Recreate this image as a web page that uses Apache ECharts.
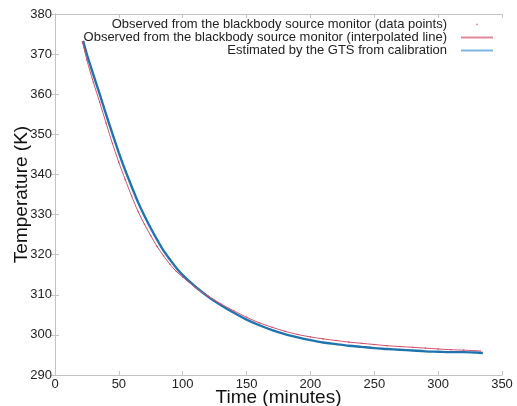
<!DOCTYPE html>
<html>
<head>
<meta charset="utf-8">
<script src="https://cdn.jsdelivr.net/npm/echarts@6/dist/echarts.min.js"></script>
<style>
html,body{margin:0;padding:0;background:#fff;}
#c{width:517px;height:406px;}
</style>
</head>
<body>
<div id="c"></div>
<script>
var xTicks = [0, 50, 100, 150, 200, 250, 300, 350];
var yTicks = [290, 300, 310, 320, 330, 340, 350, 360, 370, 380];

var blueTime = [22,25,30,35,40,45,50,55,60,65,70,75,80,85,90,95,100,110,120,130,140,150,160,170,180,190,200,210,220,230,240,250,260,270,280,290,300,310,320,330,335];
var blueTemp = [373.3,369.9,364.9,360.0,355.0,350.1,345.4,341.0,337.0,333.1,329.7,326.6,323.7,321.0,318.8,316.7,314.9,312.0,309.5,307.4,305.5,303.8,302.4,301.2,300.2,299.4,298.7,298.1,297.7,297.3,297.0,296.7,296.5,296.3,296.1,295.9,295.8,295.7,295.7,295.6,295.5];

var redTime = [21.5,25,30,35,40,45,50,55,60,65,70,75,80,85,90,95,100,110,120,130,140,150,160,170,180,190,200,210,220,230,240,250,260,270,280,290,300,310,320,333];
var redTemp = [373.0,368.5,363.0,358.0,352.8,347.7,343.0,338.7,334.6,330.8,327.6,324.7,322.0,319.7,317.6,315.8,314.4,311.8,309.6,307.7,306.0,304.4,303.0,301.9,300.9,300.1,299.5,299.0,298.6,298.2,297.9,297.6,297.3,297.1,296.9,296.7,296.5,296.3,296.2,296.0];

var nameDots = 'Observed from the blackbody source monitor (data points)';
var nameLine = 'Observed from the blackbody source monitor (interpolated line)';
var nameEst = 'Estimated by the GTS from calibration';

function pairs(xs, ys) { return xs.map(function (x, i) { return [x, ys[i]]; }); }

var FONT = 'Liberation Sans, Arial, sans-serif';
var AX = '#c4c4c4';

var chart = echarts.init(document.getElementById('c'), null, {renderer: 'canvas'});
chart.setOption({
  animation: false,
  backgroundColor: '#fff',
  grid: {left: 55, right: 15, top: 14, bottom: 31, containLabel: false, outerBoundsMode: 'none'},
  legend: {
    orient: 'vertical',
    right: 24,
    top: 18,
    align: 'right',
    itemWidth: 32,
    itemHeight: 2,
    itemGap: 0,
    padding: 0,
    textStyle: {fontFamily: FONT, fontSize: 13, color: '#222', lineHeight: 12, padding: [0, 9, 0, 0]},
    data: [
      {name: nameDots, icon: 'circle', itemStyle: {color: '#e07890'}},
      {name: nameLine, icon: 'rect', itemStyle: {color: '#de8a9c'}},
      {name: nameEst, icon: 'rect', itemStyle: {color: '#7cb6e2'}}
    ]
  },
  xAxis: [{
    type: 'value', min: 0, max: 350, interval: 50, position: 'bottom',
    name: 'Time (minutes)', nameLocation: 'middle', nameGap: 13, nameMoveOverlap: false,
    nameTextStyle: {fontFamily: FONT, fontSize: 19, color: '#111'},
    axisLine: {show: true, lineStyle: {color: AX, width: 1}},
    axisTick: {show: true, inside: true, length: 4, lineStyle: {color: AX}},
    axisLabel: {fontFamily: FONT, fontSize: 13, color: '#222', margin: 3,
      formatter: function (v) { return xTicks.indexOf(v) >= 0 ? String(v) : ''; }},
    splitLine: {show: false}
  }, {
    type: 'value', min: 0, max: 350, interval: 50, position: 'top',
    axisLine: {show: true, lineStyle: {color: AX, width: 1}},
    axisTick: {show: true, inside: true, length: 4, lineStyle: {color: AX}},
    axisLabel: {show: false}, splitLine: {show: false}
  }],
  yAxis: [{
    type: 'value', min: 290, max: 380, interval: 10, position: 'left',
    name: 'Temperature (K)', nameLocation: 'middle', nameGap: 24, nameMoveOverlap: false,
    nameTextStyle: {fontFamily: FONT, fontSize: 19, color: '#111'},
    axisLine: {show: true, lineStyle: {color: AX, width: 1}},
    axisTick: {show: true, inside: true, length: 4, lineStyle: {color: AX}},
    axisLabel: {fontFamily: FONT, fontSize: 13, color: '#222', margin: 3,
      formatter: function (v) { return yTicks.indexOf(v) >= 0 ? String(v) : ''; }},
    splitLine: {show: false}
  }, {
    type: 'value', min: 290, max: 380, interval: 10, position: 'right',
    axisLine: {show: true, lineStyle: {color: AX, width: 1}},
    axisTick: {show: true, inside: true, length: 4, lineStyle: {color: AX}},
    axisLabel: {show: false}, splitLine: {show: false}
  }],
  series: [
    {
      name: nameDots, type: 'scatter', xAxisIndex: 0, yAxisIndex: 0,
      symbol: 'circle', symbolSize: 1.6,
      itemStyle: {color: '#d0405e'},
      data: pairs(redTime, redTemp), z: 4
    },
    {
      name: nameLine, type: 'line', xAxisIndex: 0, yAxisIndex: 0,
      smooth: 0.3, showSymbol: false, symbol: 'none',
      lineStyle: {color: '#d4506c', width: 1},
      data: pairs(redTime, redTemp), z: 3
    },
    {
      name: nameEst, type: 'line', xAxisIndex: 0, yAxisIndex: 0,
      smooth: 0.3, showSymbol: false, symbol: 'none',
      lineStyle: {color: '#1f74b0', width: 2.4},
      data: pairs(blueTime, blueTemp), z: 2
    }
  ]
});
</script>
</body>
</html>
